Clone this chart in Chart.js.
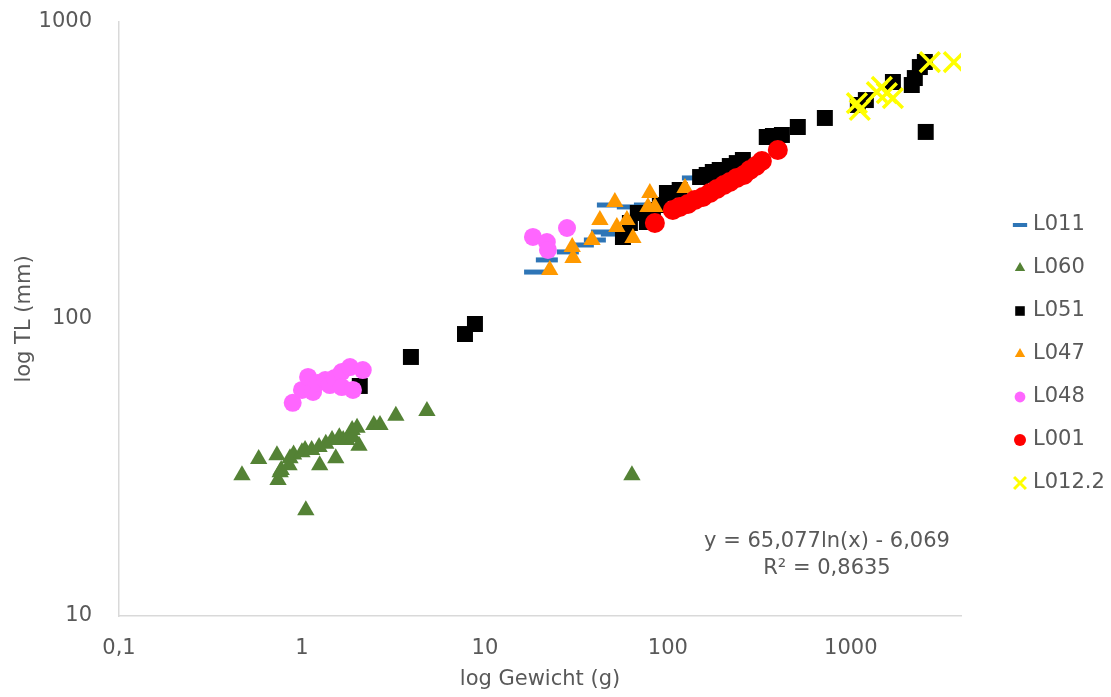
<!DOCTYPE html>
<html>
<head>
<meta charset="utf-8">
<script src="https://cdn.jsdelivr.net/npm/chart.js@4/dist/chart.umd.min.js"></script>
<style>
  html, body { margin: 0; padding: 0; background: #ffffff; }
  #wrap { width: 1111px; height: 697px; position: relative; }
</style>
</head>
<body>
<div id="wrap"><canvas id="c" width="1111" height="697"></canvas></div>
<script>
// ---- data (x = Gewicht g, y = TL mm) ----
const L011 = [[18.8,143.9],[21.8,158.1],[28.4,168.2],[34.3,177.5],[39.9,184.5],[43.6,196.3],[49.4,193.2],[47.0,242],[60.4,238.4],[74.9,242],[137,298.5]];
const L060 = [[0.47,29.8],[0.58,33.8],[0.73,34.8],[0.74,28.7],[0.76,30.5],[0.77,31.0],[0.85,32.2],[0.86,34.0],[0.9,35.0],[1.0,35.6],[1.04,36.2],[1.05,22.7],[1.13,36.2],[1.24,37.1],[1.25,32.2],[1.35,38.0],[1.46,39.1],[1.53,34.0],[1.6,40.0],[1.68,39.1],[1.76,39.1],[1.88,42.3],[1.9,40.0],[2.0,43.0],[2.05,37.4],[2.47,44.0],[2.67,44.0],[3.26,47.2],[4.82,49.0],[63.6,29.8]];
const L051 = [[2.07,59.5],[3.94,74.5],[7.78,89.0],[8.82,96.2],[56.8,188.8],[62.0,210.5],[68.5,227.5],[76.8,212.1],[82.8,232.8],[90.4,242],[98.8,265.6],[116,271.9],[150,300.6],[163,305.5],[176,312.6],[192,317.5],[218,327.4],[238,335.0],[257,343.0],[347,410.0],[375,413.3],[420,416.5],[513,443.1],[721,475.2],[1092,525.6],[1208,546],[1698,628],[2153,613.5],[2237,647.6],[2383,705.2],[2538,733.3],[2566,426.4]];
const L047 = [[22.6,146.2],[30.3,160.4],[30.0,174.8],[38.5,184.5],[42.5,215.4],[51.3,247.7],[52.6,204.1],[59.7,215.4],[64.4,187.5],[79.7,265.6],[77.8,238.4],[84.9,238.4],[124,276.1]];
const L048 = [[0.89,52.2],[1.0,57.7],[1.08,63.8],[1.15,56.8],[1.22,60.9],[1.34,62.3],[1.42,59.9],[1.51,63.3],[1.65,66.3],[1.65,59.0],[1.83,68.9],[1.90,57.7],[2.15,67.3],[18.3,188.9],[21.8,181.6],[22.1,170.8],[28.1,202.5]];
const L001 = [[84.9,210.5],[106.4,232.8],[116,238.4],[128.6,243.9],[140.5,251.6],[155.3,257.6],[169.8,265.6],[185.3,273.9],[202.3,282.5],[218,289.3],[238,298.5],[260.2,305.5],[280.5,317.5],[302.9,327.4],[326.3,340.5],[399,370.7]];
const L012_2 = [[1079,533.5],[1119,505.6],[1387,580.9],[1477,604.5],[1573,576.4],[1698,554.6],[2702,733],[3656,733]];

const SERIES_NAMES = ['L011','L060','L051','L047','L048','L001','L012.2'];
const X_TICKS = [0.1, 1, 10, 100, 1000];
const X_TICK_LABELS = ['0,1', '1', '10', '100', '1000'];
const Y_TICKS = [10, 100, 1000];
const Y_TICK_LABELS = ['10', '100', '1000'];
const TREND_TEXT = ['y = 65,077ln(x) - 6,069', 'R\u00B2 = 0,8635'];
const X_TITLE = 'log Gewicht (g)';
const Y_TITLE = 'log TL (mm)';

const FONT = 'DejaVu Sans';
const TXT = '#595959';

const styles = [
  {color:'#2E75B6', style:'line', r:11, bw:5},
  {color:'#548235', style:'triangle', r:10, bw:0},
  {color:'#000000', style:'rect', r:11.3, bw:0},
  {color:'#FF9900', style:'triangle', r:10, bw:0},
  {color:'#FF66FF', style:'circle', r:9, bw:0},
  {color:'#FF0000', style:'circle', r:10, bw:0},
  {color:'#FFFF00', style:'crossRot', r:14, bw:3.5}
];
const allSeries = [L011, L060, L051, L047, L048, L001, L012_2];

const datasets = allSeries.map((s, i) => ({
  label: SERIES_NAMES[i],
  data: s.map(p => ({x: p[0], y: p[1]})),
  pointStyle: styles[i].style,
  pointRadius: styles[i].r,
  pointBackgroundColor: styles[i].color,
  pointBorderColor: styles[i].color,
  pointBorderWidth: styles[i].bw,
  backgroundColor: styles[i].color,
  borderColor: styles[i].color,
  showLine: false,
  order: allSeries.length - i
}));

function drawMarker(ctx, st, x, y, scale) {
  const r = st.r * scale;
  ctx.save();
  ctx.fillStyle = st.color;
  ctx.strokeStyle = st.color;
  ctx.beginPath();
  if (st.style === 'line') {
    ctx.lineWidth = 4;
    ctx.moveTo(x - r, y); ctx.lineTo(x + r, y); ctx.stroke();
  } else if (st.style === 'triangle') {
    ctx.moveTo(x, y - r);
    ctx.lineTo(x + r * Math.sin(2*Math.PI/3), y - r * Math.cos(2*Math.PI/3));
    ctx.lineTo(x + r * Math.sin(4*Math.PI/3), y - r * Math.cos(4*Math.PI/3));
    ctx.closePath(); ctx.fill();
  } else if (st.style === 'rect') {
    const s = r * Math.SQRT1_2;
    ctx.rect(x - s, y - s, 2*s, 2*s); ctx.fill();
  } else if (st.style === 'circle') {
    ctx.arc(x, y, r, 0, Math.PI*2); ctx.fill();
  } else if (st.style === 'crossRot') {
    const o = r * Math.SQRT1_2;
    ctx.lineWidth = 3;
    ctx.moveTo(x - o, y - o); ctx.lineTo(x + o, y + o);
    ctx.moveTo(x + o, y - o); ctx.lineTo(x - o, y + o);
    ctx.stroke();
  }
  ctx.restore();
}

const extras = {
  id: 'extras',
  afterDraw(chart) {
    const ctx = chart.ctx;
    ctx.save();
    ctx.font = '21px "' + FONT + '"';
    ctx.fillStyle = TXT;
    ctx.textBaseline = 'middle';
    // legend
    const lx = 1020, tx = 1033, ly0 = 225, dy = 43;
    SERIES_NAMES.forEach((n, i) => {
      const y = ly0 + dy * i;
      const st = styles[i];
      const sc = st.style === 'line' ? 0.65 : 0.6;
      drawMarker(ctx, st, lx, y, sc);
      ctx.textAlign = 'left';
      ctx.fillStyle = TXT;
      ctx.fillText(n, tx, y);
    });
    // trendline label
    ctx.textAlign = 'center';
    ctx.fillText(TREND_TEXT[0], 827, 542);
    ctx.fillText(TREND_TEXT[1], 827, 569);
    ctx.restore();
  }
};

new Chart(document.getElementById('c'), {
  type: 'scatter',
  data: { datasets },
  options: {
    responsive: false,
    animation: false,
    events: [],
    layout: { padding: { top: 22, right: 150, left: 0, bottom: 0 } },
    plugins: { legend: { display: false }, tooltip: { enabled: false } },
    scales: {
      x: {
        type: 'logarithmic',
        min: 0.1, max: 4000,
        afterFit(s) { s.height = 81; s.paddingLeft = 0; s.paddingRight = 0; },
        afterBuildTicks(s) { s.ticks = X_TICKS.map(v => ({value: v})); },
        grid: { drawOnChartArea: false, drawTicks: false, color: 'rgba(0,0,0,0)' },
        border: { display: true, color: '#d9d9d9', width: 1.5 },
        ticks: {
          color: TXT, font: { family: FONT, size: 21 }, padding: 20, maxRotation: 0,
          autoSkip: false,
          callback: (v, i) => X_TICK_LABELS[i]
        },
        title: { display: true, text: X_TITLE, color: TXT, font: { family: FONT, size: 21 }, padding: { top: 0, bottom: 5 } }
      },
      y: {
        type: 'logarithmic',
        min: 10, max: 1000,
        afterFit(s) { s.width = 119; s.paddingTop = 0; s.paddingBottom = 0; },
        afterBuildTicks(s) { s.ticks = Y_TICKS.map(v => ({value: v})); },
        grid: { drawOnChartArea: false, drawTicks: false, color: 'rgba(0,0,0,0)' },
        border: { display: true, color: '#d9d9d9', width: 1.5 },
        ticks: {
          color: TXT, font: { family: FONT, size: 21 }, padding: 27,
          autoSkip: false,
          callback: (v, i) => Y_TICK_LABELS[i]
        },
        title: { display: true, text: Y_TITLE, color: TXT, font: { family: FONT, size: 21 }, padding: { top: 12, bottom: 0 } }
      }
    }
  },
  plugins: [extras]
});
</script>
</body>
</html>
